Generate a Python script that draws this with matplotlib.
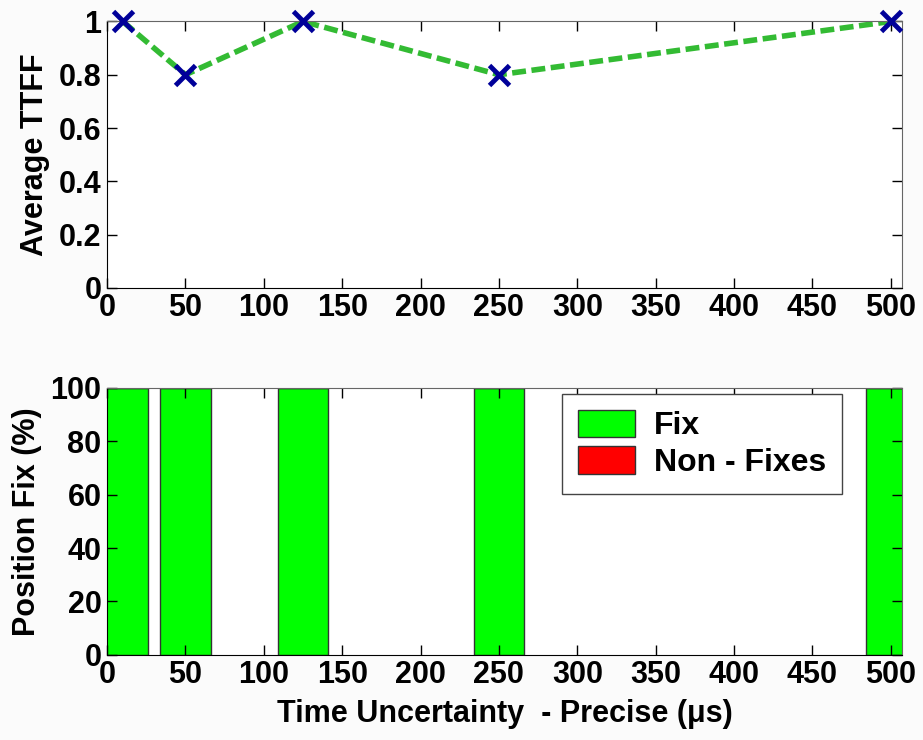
import matplotlib.pyplot as plt
import numpy as np

# Data
uncertainty = [10, 50, 125, 250, 500]
avg_ttff = [1.0, 0.8, 1.0, 0.8, 1.0]
fix_pct = [100, 100, 100, 100, 100]
nonfix_pct = [0, 0, 0, 0, 0]
ttff_ticks = [0, 0.2, 0.4, 0.6, 0.8, 1.0]
ttff_ticklabels = ['0', '0.2', '0.4', '0.6', '0.8', '1']

plt.rcParams['font.family'] = ['Liberation Sans', 'DejaVu Sans']
plt.rcParams['font.weight'] = 'bold'
plt.rcParams['axes.labelweight'] = 'bold'
plt.rcParams['font.size'] = 22


def style_axes(ax):
	ax.tick_params(direction='in', length=7, width=1, top=True, right=True, pad=4)
	for side in ['top', 'right']:
		ax.spines[side].set_color('#666666')
	for side in ['bottom', 'left']:
		ax.spines[side].set_color('black')


fig = plt.figure(figsize=(9.23, 7.40), dpi=100, facecolor='#fbfbfb')

# Top: average TTFF
ax1 = fig.add_axes([0.116, 0.611, 0.861, 0.360])
ax1.plot(uncertainty, avg_ttff, color='#33bb33', linestyle=(0, (2.5, 1.0)), linewidth=4)
ax1.plot(uncertainty, avg_ttff, linestyle='none', marker='x', color='#000099',
		 markersize=14, markeredgewidth=3.5, clip_on=False, zorder=5)
ax1.set_xlim(0, 507)
ax1.set_ylim(0, 1)
ax1.set_xticks(np.arange(0, 501, 50))
ax1.set_yticks(ttff_ticks)
ax1.set_yticklabels(ttff_ticklabels)
ax1.set_ylabel('Average TTFF', labelpad=6)
style_axes(ax1)

# Bottom: position fix percentage
ax2 = fig.add_axes([0.116, 0.115, 0.861, 0.361])
ax2.bar(uncertainty, fix_pct, width=32, color='#00ff00', edgecolor='#333333',
		linewidth=1, label='Fix')
ax2.bar(uncertainty, nonfix_pct, width=32, bottom=fix_pct, color='#ff0000',
		edgecolor='#333333', linewidth=1, label='Non - Fixes')
ax2.set_xlim(0, 507)
ax2.set_ylim(0, 100)
ax2.set_xticks(np.arange(0, 501, 50))
ax2.set_yticks(np.arange(0, 101, 20))
ax2.set_ylabel('Position Fix (%)', labelpad=6)
ax2.set_xlabel('Time Uncertainty  - Precise (\u03bcs)', labelpad=6)
style_axes(ax2)

leg = ax2.legend(loc='upper left', bbox_to_anchor=(0.572, 0.978), borderaxespad=0,
				 fancybox=False, edgecolor='#444444', framealpha=1,
				 handlelength=1.8, handleheight=0.95, borderpad=0.5,
				 labelspacing=0.15, handletextpad=0.6,
				 prop={'size': 23, 'weight': 'bold'})
leg.get_frame().set_linewidth(1)

fig.savefig('out.png', dpi=100, facecolor=fig.get_facecolor())
